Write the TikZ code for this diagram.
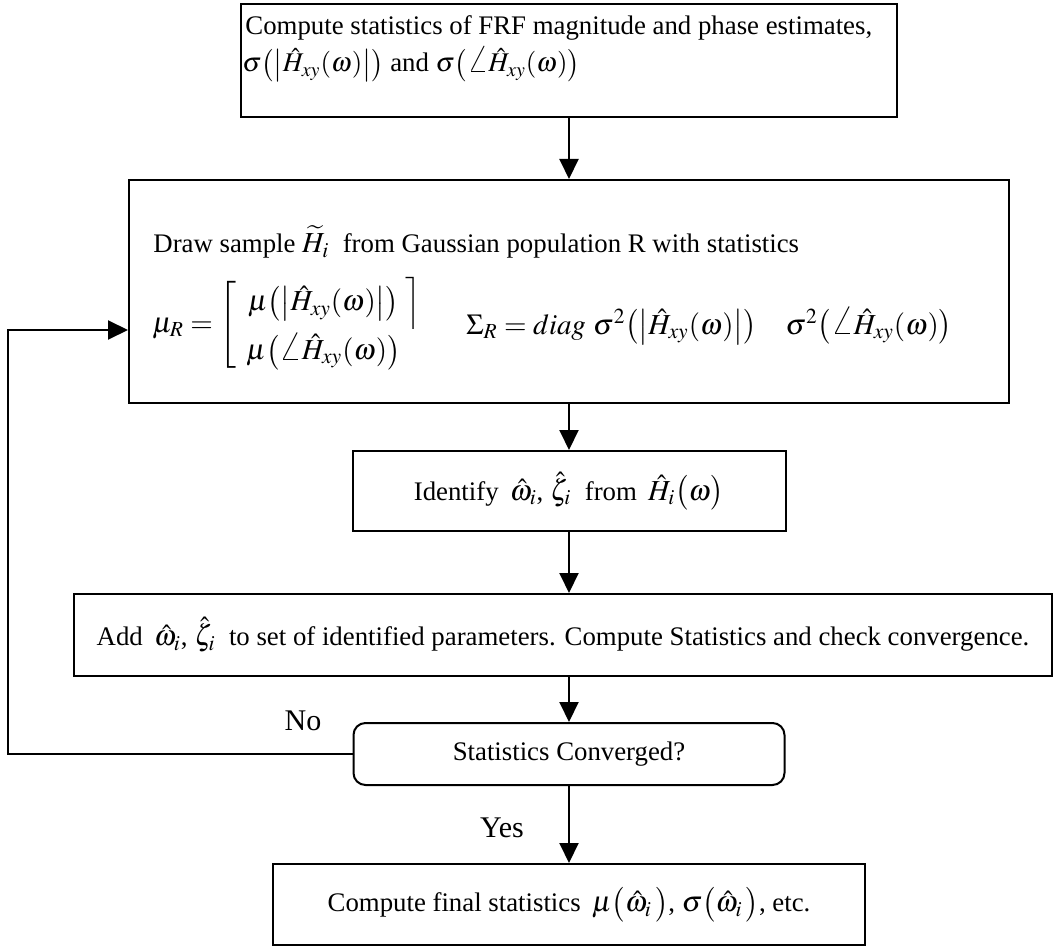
\documentclass[tikz,border=0pt]{standalone}
\usepackage{amsmath}
\usepackage{mathptmx}
\usepackage{graphicx}
\usepackage{fontspec}
\setmainfont{Liberation Serif}
\usetikzlibrary{arrows.meta}
\newcommand{\mth}[1]{{\fontsize{14.5}{17}\selectfont$#1$}}
\newcommand{\mths}[1]{{\fontsize{13.5}{16}\selectfont$#1$}}
\newcommand{\bigangle}{\mathord{\scalebox{1.35}{$\angle$}}}
\newcommand{\absH}{\bigl|\hat H_{xy}(\omega)\bigr|}
\newcommand{\angH}{\bigangle\hat H_{xy}(\omega)}
\begin{document}
\begin{tikzpicture}[x=0.5pt,y=-0.5pt,
  box/.style={draw, line width=1pt, inner sep=0pt, font=\fontsize{13.4}{16}\selectfont},
  arr/.style={line width=1pt, -{Triangle[length=10pt,width=9.5pt]}},
  txt/.style={inner sep=0pt, font=\fontsize{13.4}{16}\selectfont},
  lbl/.style={inner sep=0pt, font=\fontsize{15}{18}\selectfont}]
\useasboundingbox (0,0) rectangle (1054,946);
% boxes
\node[box, minimum width=328pt, minimum height=56.5pt] (top) at (569,60.5) {};
\node[box, minimum width=440pt, minimum height=111.5pt] (second) at (569,291.5) {};
\node[box, minimum width=216.5pt, minimum height=40pt] (ident) at (569,491)
  {Identify \,\mth{\hat\omega_i}, \mth{\hat\zeta_i}\ \ from \,\mth{\hat H_i\bigl(\omega\bigr)}};
\node[box, minimum width=489pt, minimum height=41pt] (add) at (563,635)
  {Add \,\mth{\hat\omega_i}, \mth{\hat\zeta_i}\ \ to set of identified parameters. Compute Statistics and check convergence.};
\node[box, rounded corners=6pt, minimum width=215.5pt, minimum height=31pt] (dec) at (569,754)
  {Statistics Converged?};
\node[box, minimum width=296pt, minimum height=40.5pt] (fin) at (569,904.5)
  {Compute final statistics \,\mth{\mu\bigl(\hat\omega_i\,\bigr)}, \mth{\sigma\bigl(\hat\omega_i\,\bigr)}, etc.};
% texts in top box
\node[txt, anchor=base west] (t1) at (245,35) {Compute statistics of FRF magnitude and phase estimates,};
\node[txt, anchor=base west] (t2) at (242,72)
  {\mths{\sigma\bigl(\absH\bigr)} and \mths{\sigma\bigl(\angH\bigr)}};
% texts in second box
\node[txt, anchor=base west] (d1) at (153,253)
  {Draw sample \mth{\widetilde H_i}\ \ from Gaussian population R with statistics};
\node[txt, anchor=west] (mu) at (152,325)
  {\mth{\mu_R=\renewcommand{\arraystretch}{1.25}\left[\begin{array}{c}\mu\bigl(\absH\bigr)\rlap{$\;\Bigr\rceil$}\\ \mu\bigl(\angH\bigr)\end{array}\right.}};
\node[txt, anchor=west] (sig) at (466,326)
  {\mth{\Sigma_R = diag\ \sigma^2\bigl(\absH\bigr)\quad\sigma^2\bigl(\angH\bigr)}};
% labels
\node[lbl] (no) at (303,721) {No};
\node[lbl] (yes) at (502,828) {Yes};
% connectors
\draw[arr] (top.south) -- (second.north);
\draw[arr] (second.south) -- (ident.north);
\draw[arr] (ident.south) -- (ident.south |- add.north);
\draw[arr] (dec.north |- add.south) -- (dec.north);
\draw[arr] (dec.south) -- (fin.north);
\coordinate (lc) at (8,754);
\coordinate (lt) at (8,330);
\draw[arr] (dec.west) -- (lc) -- (lt) -- (lt -| second.west);
\end{tikzpicture}
\end{document}
